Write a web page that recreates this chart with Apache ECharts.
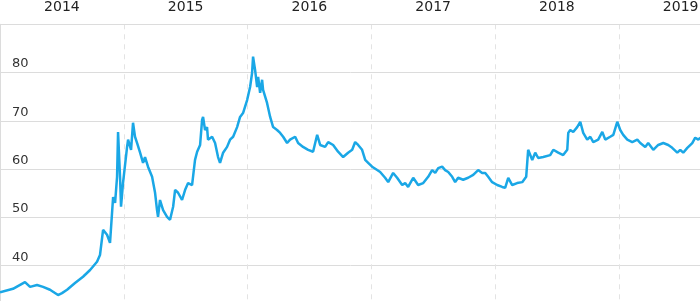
<!DOCTYPE html>
<html>
<head>
<meta charset="utf-8">
<script src="https://cdn.jsdelivr.net/npm/echarts@6/dist/echarts.min.js"></script>
<style>html,body{margin:0;padding:0;background:#fff;}#c{width:700px;height:301px;}</style>
</head>
<body>
<div id="c"></div>
<script>
var yearLabels = ['2014', '2015', '2016', '2017', '2018', '2019'];
var yTicks = [40, 50, 60, 70, 80];
// decimal-year positions of the readings
var dates = [
2014.000,2014.105,2014.202,2014.243,2014.299,2014.348,2014.404,2014.469,2014.501,2014.542,
2014.606,2014.671,2014.728,2014.784,2014.808,2014.833,2014.865,2014.889,2014.914,2014.930,
2014.946,2014.954,2014.970,2014.978,2014.994,2015.027,2015.035,2015.059,2015.075,2015.091,
2015.108,2015.132,2015.156,2015.172,2015.196,2015.229,2015.253,2015.269,2015.277,2015.293,
2015.318,2015.350,2015.374,2015.399,2015.415,2015.439,2015.471,2015.496,2015.520,2015.552,
2015.576,2015.593,2015.617,2015.633,2015.641,2015.657,2015.673,2015.681,2015.714,2015.738,
2015.762,2015.778,2015.803,2015.835,2015.859,2015.884,2015.916,2015.940,2015.964,2015.997,
2016.021,2016.037,2016.045,2016.061,2016.078,2016.086,2016.102,2016.118,2016.126,2016.158,
2016.183,2016.207,2016.239,2016.264,2016.288,2016.320,2016.344,2016.385,2016.409,2016.449,
2016.490,2016.506,2016.530,2016.563,2016.587,2016.627,2016.652,2016.692,2016.732,2016.773,
2016.813,2016.846,2016.870,2016.894,2016.926,2016.951,2016.975,2017.007,2017.048,2017.072,
2017.112,2017.137,2017.177,2017.209,2017.250,2017.274,2017.298,2017.339,2017.379,2017.420,
2017.460,2017.492,2017.517,2017.541,2017.573,2017.597,2017.622,2017.654,2017.678,2017.702,
2017.743,2017.783,2017.824,2017.864,2017.896,2017.921,2017.945,2017.977,2018.018,2018.058,
2018.082,2018.107,2018.139,2018.179,2018.220,2018.252,2018.268,2018.301,2018.325,2018.349,
2018.390,2018.406,2018.446,2018.471,2018.511,2018.551,2018.584,2018.592,2018.608,2018.632,
2018.664,2018.689,2018.713,2018.745,2018.770,2018.794,2018.834,2018.867,2018.891,2018.931,
2018.956,2018.988,2019.012,2019.036,2019.069,2019.109,2019.150,2019.174,2019.214,2019.238,
2019.279,2019.319,2019.360,2019.400,2019.432,2019.473,2019.497,2019.521,2019.554,2019.594,
2019.618,2019.643,2019.659
];
var values = [
34.5,35.2,36.6,35.6,36.0,35.6,35.0,33.9,34.3,35.0,
36.4,37.7,39.1,40.8,42.2,47.4,46.4,44.7,54.2,53.0,
58.4,67.7,58.4,52.2,57.1,64.6,66.1,64.0,69.6,66.7,
65.4,63.4,61.3,62.5,60.5,58.4,55.1,51.5,50.1,53.6,
51.5,50.1,49.5,52.2,55.7,55.1,53.6,55.7,57.1,56.7,
61.9,63.6,65.0,70.2,70.8,68.1,68.7,66.1,66.7,65.4,
62.5,61.3,63.4,64.6,66.1,66.7,68.7,70.8,71.6,74.3,
77.0,79.9,83.3,80.6,77.0,79.1,75.8,78.5,76.4,73.7,
70.8,68.7,68.1,67.5,66.7,65.4,66.1,66.7,65.4,64.6,
64.0,64.4,63.6,67.1,65.0,64.6,65.6,65.0,63.6,62.5,
63.4,64.0,65.6,65.0,64.0,61.9,61.3,60.5,59.8,59.4,
58.2,57.3,59.2,58.2,56.7,57.1,56.3,58.2,56.7,57.1,
58.4,59.8,59.2,60.2,60.5,59.8,59.4,58.4,57.3,58.2,
57.8,58.2,58.8,59.8,59.2,59.2,58.4,57.3,56.7,56.3,
56.1,58.2,56.7,57.1,57.3,58.4,64.0,61.9,63.4,62.3,
62.5,62.3,62.9,64.0,63.4,62.9,64.0,67.5,68.1,67.7,
68.7,69.8,67.5,66.1,66.7,65.6,66.1,67.7,66.1,66.7,
67.1,69.8,68.1,67.1,66.1,65.6,66.1,65.4,64.6,65.4,
64.0,65.0,65.4,65.0,64.4,63.4,64.0,63.4,64.4,65.4,
66.5,66.1,66.5
];

var seriesData = dates.map(function (d, i) { return [d, values[i]]; });

var chart = echarts.init(document.getElementById('c'), null, { renderer: 'canvas' });
chart.setOption({
  animation: false,
  backgroundColor: '#ffffff',
  grid: { left: 0, top: 24.3, width: 742.5, height: 289.6, containLabel: false, outerBoundsMode: 'none' },
  xAxis: [
    {
      type: 'category',
      position: 'top',
      data: yearLabels,
      boundaryGap: true,
      axisLine: { show: true, lineStyle: { color: '#dcdcdc', width: 1 } },
      axisTick: { show: false },
      axisLabel: { show: true, color: '#222', fontSize: 14, fontFamily: 'DejaVu Sans', margin: 10 },
      splitLine: { show: true, lineStyle: { color: '#e3e3e3', type: [5, 5], width: 1 } }
    },
    {
      type: 'value',
      min: 2014,
      max: 2020,
      show: false,
      splitLine: { show: false }
    }
  ],
  yAxis: {
    type: 'value',
    min: 30,
    max: 90,
    interval: 10,
    axisLine: { show: true, lineStyle: { color: '#dcdcdc' } },
    axisTick: { show: false },
    axisLabel: {
      inside: true,
      color: '#333',
      fontSize: 13,
      fontFamily: 'DejaVu Sans',
      margin: 12,
      verticalAlign: 'bottom',
      padding: [0, 0, 2, 0],
      showMaxLabel: false,
      formatter: function (v) { return yTicks.indexOf(v) >= 0 ? String(v) : ''; }
    },
    splitLine: { show: true, lineStyle: { color: '#dcdcdc', width: 1 } }
  },
  series: [{
    type: 'line',
    xAxisIndex: 1,
    data: seriesData,
    showSymbol: false,
    smooth: false,
    lineStyle: { color: '#1aa7e6', width: 2.5 },
    itemStyle: { color: '#1aa7e6' }
  }]
});
</script>
</body>
</html>
